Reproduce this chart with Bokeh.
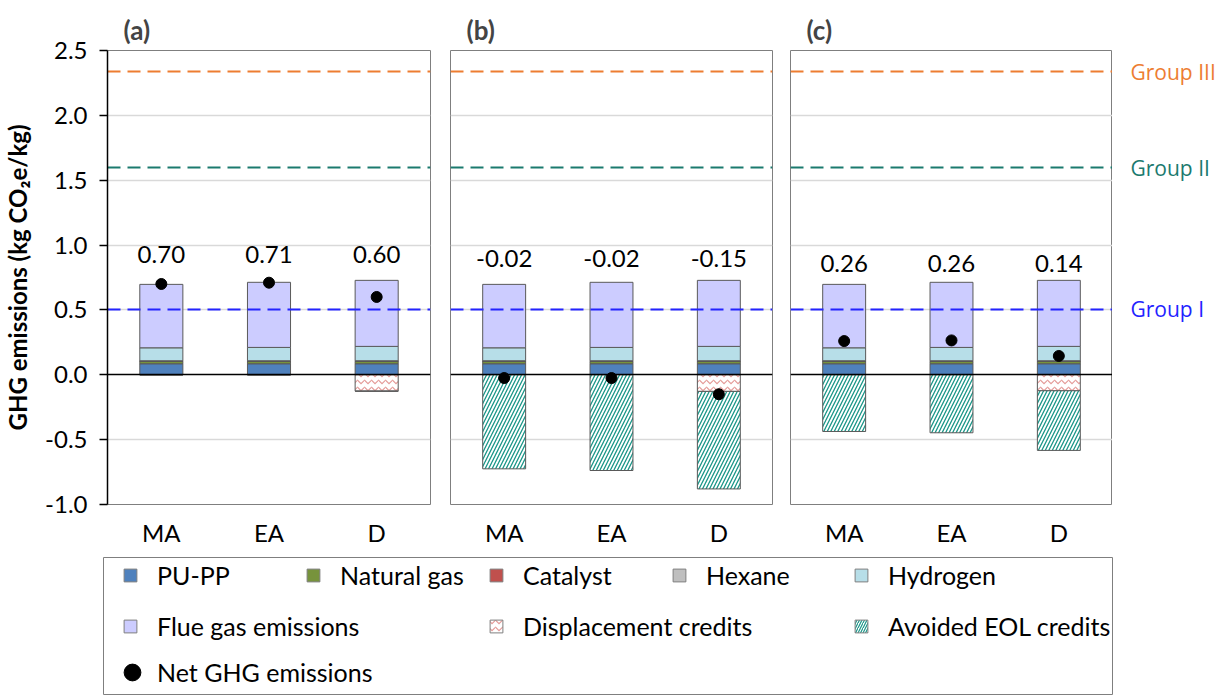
import numpy as np
from bokeh.plotting import figure
from bokeh.layouts import row, column
from bokeh.models import (ColumnDataSource, FactorRange, Range1d, FixedTicker,
                          PrintfTickFormatter, Legend, LegendItem)
from bokeh.core.properties import value
from bokeh.embed import file_html
from bokeh.resources import INLINE

# ---------------- data ----------------
scenarios = ["MA", "EA", "D"]
panel_names = ["(a)", "(b)", "(c)"]

pu_pp = [0.085, 0.085, 0.085]
natural_gas = [0.018, 0.018, 0.018]
catalyst = [0.003, 0.003, 0.003]
hexane = [0.002, 0.002, 0.002]
hydrogen = [0.100, 0.103, 0.111]
flue_gas = [0.489, 0.502, 0.509]

displacement_a = [0.0, 0.0, 0.126]
displacement_b = [0.0, 0.0, 0.128]
displacement_c = [0.0, 0.0, 0.123]
avoided_eol_a = [0.0, 0.0, 0.0]
avoided_eol_b = [0.725, 0.738, 0.752]
avoided_eol_c = [0.437, 0.447, 0.460]

net_a = [0.70, 0.71, 0.60]
net_b = [-0.025, -0.025, -0.15]
net_c = [0.26, 0.265, 0.145]
net_labels_a = ["0.70", "0.71", "0.60"]
net_labels_b = ["-0.02", "-0.02", "-0.15"]
net_labels_c = ["0.26", "0.26", "0.14"]

group_names = ["Group I", "Group II", "Group III"]
group_values = [0.505, 1.595, 2.335]

y_ticks = [-1.0, -0.5, 0.0, 0.5, 1.0, 1.5, 2.0, 2.5]
grid_ticks = [-0.5, 0.5, 1.0, 1.5, 2.0]

# ---------------- styles ----------------
FONT = "Lato"
stack_names = ["PU-PP", "Natural gas", "Catalyst", "Hexane", "Hydrogen", "Flue gas emissions"]
stack_colors = ["#4F81BD", "#77933C", "#C0504D", "#BFBFBF", "#B7DEE8", "#CCCCFF"]
group_colors = ["#2323FF", "#1B7A6E", "#ED7D31"]
OUTLINE = "#595959"
DISP_HATCH = "#E49A98"
EOL_HATCH = "#1A9688"
label_y_levels = [0.93, 0.895, 0.86]

yr = Range1d(-1.0, 2.5)

panels_data = [
    (displacement_a, avoided_eol_a, net_a, net_labels_a),
    (displacement_b, avoided_eol_b, net_b, net_labels_b),
    (displacement_c, avoided_eol_c, net_c, net_labels_c),
]
fig_widths = [440, 341, 331]
borders = [(106, 10), (10, 9), (9, 0)]
TOP, BOT = 50, 48
TOP_H = TOP + 454 + BOT

figs = []
for i, (disp, eol, net, labels) in enumerate(panels_data):
    bl, br = borders[i]
    p = figure(x_range=FactorRange(*scenarios), y_range=yr,
               width=fig_widths[i], height=TOP_H,
               min_border_left=bl, min_border_right=br,
               min_border_top=TOP, min_border_bottom=BOT,
               y_axis_location="left" if i == 0 else None,
               title=panel_names[i],
               output_backend="svg", toolbar_location=None)
    p.title.text_font = FONT
    p.title.text_font_size = "26px"
    p.title.text_font_style = "bold"
    p.title.align = "left"
    p.title.offset = 16
    p.title.standoff = 9
    p.outline_line_color = "#7F7F7F"
    p.outline_line_width = 1

    p.xgrid.visible = False
    p.ygrid.ticker = FixedTicker(ticks=grid_ticks)
    p.ygrid.grid_line_color = "#D9D9D9"
    p.ygrid.grid_line_width = 1.5

    p.xaxis.axis_line_color = None
    p.xaxis.major_tick_line_color = None
    p.xaxis.minor_tick_line_color = None
    p.xaxis.major_label_text_font = FONT
    p.xaxis.major_label_text_font_size = "24px"
    p.xaxis.major_label_text_color = "black"
    p.xaxis.major_label_standoff = 7

    if i == 0:
        ax = p.yaxis[0]
        ax.ticker = FixedTicker(ticks=y_ticks)
        ax.formatter = PrintfTickFormatter(format="%.1f")
        ax.major_tick_out = 8
        ax.major_tick_in = 0
        ax.minor_tick_line_color = None
        ax.axis_line_color = "black"
        ax.axis_line_width = 1.5
        ax.major_tick_line_width = 1.5
        ax.major_tick_line_color = "black"
        ax.major_label_text_font = FONT
        ax.major_label_text_font_size = "24px"
        ax.major_label_text_color = "black"
        ax.major_label_standoff = 12
        ax.axis_label = "GHG emissions (kg CO\u2082e/kg)"
        ax.axis_label_text_font = FONT
        ax.axis_label_text_font_size = "24px"
        ax.axis_label_text_font_style = "bold"
        ax.axis_label_text_color = "black"
        ax.axis_label_standoff = 10

    disp_arr = np.array(disp)
    eol_arr = np.array(eol)
    src = ColumnDataSource(dict(
        x=scenarios, pu=pu_pp, ng=natural_gas, cat=catalyst, hx=hexane,
        h2=hydrogen, flue=flue_gas,
        disp_top=np.zeros(3), disp_bot=-disp_arr,
        eol_top=-disp_arr, eol_bot=-(disp_arr + eol_arr),
        net=net, lab=labels, laby=[label_y_levels[i]] * 3,
    ))
    p.vbar_stack(["pu", "ng", "cat", "hx", "h2", "flue"], x="x", width=0.4,
                 source=src, fill_color=stack_colors, line_color=OUTLINE, line_width=1)
    p.vbar(x="x", top="disp_top", bottom="disp_bot", width=0.4, source=src,
           fill_color="white", line_color=OUTLINE, line_width=1,
           hatch_pattern="horizontal_wave", hatch_color=DISP_HATCH,
           hatch_scale=7, hatch_weight=1.2)
    p.vbar(x="x", top="eol_top", bottom="eol_bot", width=0.4, source=src,
           fill_color="white", line_color=OUTLINE, line_width=1,
           hatch_pattern="right_diagonal_line", hatch_color=EOL_HATCH,
           hatch_scale=7, hatch_weight=1.3)

    p.hspan(y=[0.0], line_color="black", line_width=1.5)
    gsrc = ColumnDataSource(dict(y=group_values, c=group_colors))
    p.hspan(y="y", line_color="c", line_width=2, line_dash="13 7", source=gsrc)

    p.scatter(x="x", y="net", size=11, color="black", source=src)
    p.text(x="x", y="laby", text="lab", source=src, text_font=value(FONT),
           text_font_size="24px", text_align="center", text_baseline="middle",
           text_color="black")
    figs.append(p)

# group label strip
g = figure(x_range=Range1d(0, 1), y_range=yr, width=113, height=TOP_H,
           min_border_left=0, min_border_right=0, min_border_top=TOP, min_border_bottom=BOT,
           x_axis_location=None, y_axis_location=None,
           output_backend="svg", toolbar_location=None)
g.grid.visible = False
g.outline_line_color = None
gl = ColumnDataSource(dict(x=[0.0] * 3, y=group_values, t=group_names, c=group_colors))
g.text(x="x", y="y", text="t", text_color="c", source=gl, x_offset=18,
       text_font=value("Open Sans"), text_font_size="21px",
       text_align="left", text_baseline="middle")

# legend strip
LEG_H = 695 - TOP_H
FH = LEG_H - 5
lf = figure(x_range=Range1d(0, 1), y_range=Range1d(0, 1), width=1225, height=LEG_H,
            min_border_left=103, min_border_right=113, min_border_top=5, min_border_bottom=0,
            x_axis_location=None, y_axis_location=None,
            output_backend="svg", toolbar_location=None)
lf.grid.visible = False
lf.outline_line_color = "#7F7F7F"

nan = [float("nan")]
rs = []
for c in stack_colors:
    rs.append(lf.vbar(x=nan, top=nan, width=0.1, fill_color=c, line_color="#7F7F7F", line_width=1))
r_disp = lf.vbar(x=nan, top=nan, width=0.1, fill_color="white", line_color="#7F7F7F",
                 hatch_pattern="horizontal_wave", hatch_color=DISP_HATCH, hatch_scale=7, hatch_weight=1.2)
r_eol = lf.vbar(x=nan, top=nan, width=0.1, fill_color="white", line_color="#7F7F7F",
                hatch_pattern="right_diagonal_line", hatch_color=EOL_HATCH, hatch_scale=5, hatch_weight=1.2)
r_net = lf.scatter(x=nan, y=nan, size=11, color="black")

LH, SP = 30, 21


def add_leg(pairs, vx, top_off, gw=16, gh=16, standoff=19):
    n = len(pairs)
    ih = max(gh, LH)
    h = n * ih + (n - 1) * SP
    vy = FH - top_off - h
    leg = Legend(items=[LegendItem(label=lbl, renderers=[r]) for lbl, r in pairs],
                 location=(vx, vy), orientation="vertical",
                 glyph_width=gw, glyph_height=gh, label_standoff=standoff,
                 label_height=LH, spacing=SP, padding=0, margin=0,
                 border_line_color=None, background_fill_alpha=0,
                 label_text_font=FONT, label_text_font_size="25px",
                 label_text_color="black")
    lf.add_layout(leg, "center")


add_leg([(stack_names[0], rs[0]), (stack_names[5], rs[5])], 19, 3)
add_leg([(stack_names[1], rs[1])], 202, 3)
add_leg([(stack_names[2], rs[2]), ("Displacement credits", r_disp)], 385, 3)
add_leg([(stack_names[3], rs[3])], 568, 3)
add_leg([(stack_names[4], rs[4]), ("Avoided EOL credits", r_eol)], 750, 3)
add_leg([("Net GHG emissions", r_net)], 8, 94, gw=42, gh=42, standoff=4)

layout = column(row(*figs, g), lf)
open("out.html", "w").write(file_html(layout, INLINE))
